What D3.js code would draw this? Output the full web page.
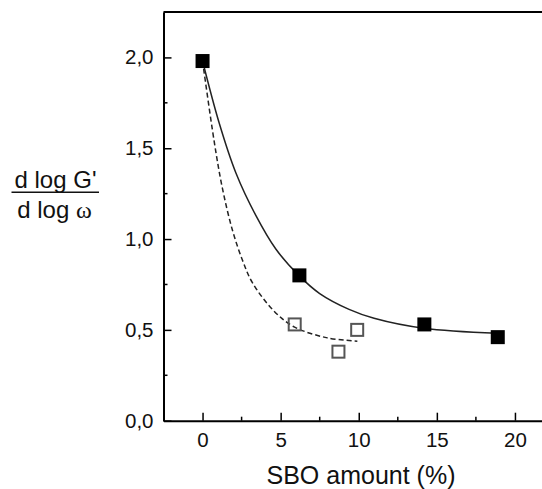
<!DOCTYPE html>
<html lang="en">
  <head>
    <meta charset="UTF-8" />
    <title>SBO amount vs d log G' / d log ω</title>
    <script src="https://d3js.org/d3.v7.min.js"></script>
    <style>
      body {
        margin: 0;
        background: #fff;
      }
      svg {
        display: block;
      }
      text {
        font-family: 'Liberation Sans', Arial, sans-serif;
        fill: #111;
      }
    </style>
  </head>
  <body>
    <svg width="542" height="489"></svg>

    <script>
      // measured points (SBO %, slope)
      const filledX = [0, 6.2, 14.2, 18.9];
      const filledY = [1.98, 0.8, 0.53, 0.46];
      const openX = [5.9, 8.7, 9.9];
      const openY = [0.53, 0.38, 0.5];

      // fit curves
      const solidFitX = [0, 1.06, 2.13, 3.41, 4.69, 6.16, 7.5, 9.38, 10.98, 14.17, 18.87];
      const solidFitY = [1.98, 1.64, 1.365, 1.13, 0.945, 0.8, 0.7, 0.613, 0.564, 0.509, 0.481];
      const dashFitX = [0, 0.74, 1.27, 1.91, 2.55, 3.19, 4.58, 5.86, 7.99, 9.91];
      const dashFitY = [1.98, 1.54, 1.28, 1.05, 0.885, 0.76, 0.603, 0.517, 0.456, 0.438];

      const xTicks = [0, 5, 10, 15, 20];
      const xMinor = [2.5, 7.5, 12.5, 17.5];
      const yTicks = [0, 0.5, 1.0, 1.5, 2.0];
      const yMinor = [0.25, 0.75, 1.25, 1.75];

      const svg = d3.select('svg');

      const x = d3.scaleLinear().domain([-2.5, 22.5]).range([163.5, 554]);
      const y = d3.scaleLinear().domain([0, 2.25]).range([420.7, 12]);

      const comma = (d) => d3.format('.1f')(d).replace('.', ',');

      // frame top line
      svg
        .append('line')
        .attr('x1', x(-2.5))
        .attr('x2', x(22.5))
        .attr('y1', y(2.25))
        .attr('y2', y(2.25))
        .attr('stroke', '#000')
        .attr('stroke-width', 2);

      // x axis
      const gx = svg
        .append('g')
        .attr('transform', `translate(0,${y(0)})`)
        .call(
          d3.axisBottom(x).tickValues(xTicks).tickSizeInner(-8).tickSizeOuter(0).tickPadding(12),
        );
      gx.append('g')
        .selectAll('line')
        .data(xMinor)
        .join('line')
        .attr('x1', (d) => x(d))
        .attr('x2', (d) => x(d))
        .attr('y1', 0)
        .attr('y2', -4)
        .attr('stroke', '#000')
        .attr('stroke-width', 1.5);

      // y axis
      const gy = svg
        .append('g')
        .attr('transform', `translate(${x(-2.5)},0)`)
        .call(
          d3
            .axisLeft(y)
            .tickValues(yTicks)
            .tickFormat(comma)
            .tickSizeInner(-8)
            .tickSizeOuter(0)
            .tickPadding(10),
        );
      gy.append('g')
        .selectAll('line')
        .data(yMinor)
        .join('line')
        .attr('y1', (d) => y(d))
        .attr('y2', (d) => y(d))
        .attr('x1', 0)
        .attr('x2', 4)
        .attr('stroke', '#000')
        .attr('stroke-width', 1.5);

      [gx, gy].forEach((g) => {
        g.select('.domain').attr('stroke-width', 2);
        g.selectAll('.tick line').attr('stroke-width', 1.5);
        g.selectAll('.tick text')
          .attr('font-family', "'Liberation Sans', Arial, sans-serif")
          .attr('font-size', 20.5)
          .attr('fill', '#111');
      });

      // fit curves
      const line = d3
        .line()
        .x((d) => x(d[0]))
        .y((d) => y(d[1]))
        .curve(d3.curveCatmullRom);

      svg
        .append('path')
        .datum(d3.zip(solidFitX, solidFitY))
        .attr('d', line)
        .attr('fill', 'none')
        .attr('stroke', '#222')
        .attr('stroke-width', 1.5);

      svg
        .append('path')
        .datum(d3.zip(dashFitX, dashFitY))
        .attr('d', line)
        .attr('fill', 'none')
        .attr('stroke', '#222')
        .attr('stroke-width', 1.5)
        .attr('stroke-dasharray', '5,3');

      // markers
      svg
        .selectAll('rect.filled')
        .data(d3.zip(filledX, filledY))
        .join('rect')
        .attr('class', 'filled')
        .attr('x', (d) => x(d[0]) - 7)
        .attr('y', (d) => y(d[1]) - 7)
        .attr('width', 14)
        .attr('height', 14)
        .attr('fill', '#000');

      svg
        .selectAll('rect.open')
        .data(d3.zip(openX, openY))
        .join('rect')
        .attr('class', 'open')
        .attr('x', (d) => x(d[0]) - 6)
        .attr('y', (d) => y(d[1]) - 6)
        .attr('width', 12)
        .attr('height', 12)
        .attr('fill', 'none')
        .attr('stroke', '#555')
        .attr('stroke-width', 2);

      // axis titles
      svg
        .append('text')
        .attr('x', 361)
        .attr('y', 484)
        .attr('text-anchor', 'middle')
        .attr('font-size', 25)
        .text('SBO amount (%)');

      svg
        .append('text')
        .attr('x', 55.5)
        .attr('y', 187.5)
        .attr('text-anchor', 'middle')
        .attr('font-size', 24)
        .text("d log G'");
      svg
        .append('line')
        .attr('x1', 11.5)
        .attr('x2', 99)
        .attr('y1', 192.3)
        .attr('y2', 192.3)
        .attr('stroke', '#111')
        .attr('stroke-width', 1.5);
      const t2 = svg
        .append('text')
        .attr('x', 54.5)
        .attr('y', 218.3)
        .attr('text-anchor', 'middle')
        .attr('font-size', 24);
      t2.append('tspan').text('d log ');
      t2.append('tspan')
        .attr('font-family', "'Liberation Serif', 'Times New Roman', serif")
        .text('ω');
    </script>
  </body>
</html>
